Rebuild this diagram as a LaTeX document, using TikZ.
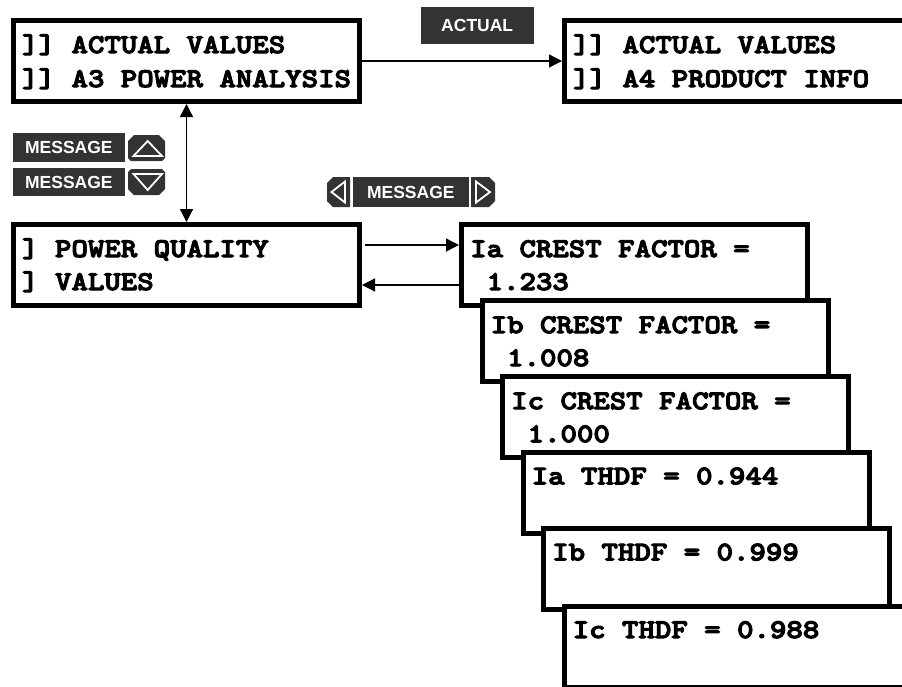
\documentclass[tikz,border=0pt]{standalone}
\usepackage{fontspec}
\usetikzlibrary{arrows.meta,calc}
\newfontfamily\keyfont{Liberation Sans}
% LCD text: heavy typewriter, widened to the display's character pitch
\newfontfamily\lcdfont{lmmonolt10-bold.otf}[FakeStretch=1.16, FakeBold=4]
\definecolor{keygray}{HTML}{333333}
\tikzset{
  lcd/.style={draw, line width=5pt, fill=white, minimum width=346pt, minimum height=81pt, inner sep=0pt},
  % screens that run past the right edge of the page
  lcdwide/.style={lcd, minimum width=380pt},
  lcdtext/.style={anchor=base west, inner sep=0pt, font=\lcdfont\fontsize{27}{34}\selectfont},
  keycap/.style={fill=keygray, text=white, inner sep=0pt, font=\keyfont\bfseries\fontsize{17.5}{20}\selectfont},
  keyglyph/.style={draw=white, line width=1.8pt, line join=miter},
  flow/.style={line width=1.3pt, -{Triangle[length=13pt,width=13pt]}},
  flowboth/.style={line width=1.3pt, {Triangle[length=13pt,width=13pt]}-{Triangle[length=13pt,width=13pt]}},
}
\begin{document}
\begin{tikzpicture}[x=1pt,y=-1pt]
\useasboundingbox (0,0) rectangle (902,686);
\clip (0,0) rectangle (902,686);

% menu header screens
\node[lcd] (b1) at (186.5,61) {};
\node[lcdtext] (b1l1) at ($(b1.north west)+(11,35)$) {]] ACTUAL VALUES};
\node[lcdtext] (b1l2) at ($(b1.north west)+(11,69)$) {]] A3 POWER ANALYSIS};

\node[lcdwide] (a4) at (754.5,61) {};
\node[lcdtext] (a4l1) at ($(a4.north west)+(11,35)$) {]] ACTUAL VALUES};
\node[lcdtext] (a4l2) at ($(a4.north west)+(11,69)$) {]] A4 PRODUCT INFO};

\node[lcd] (b2) at (186.5,265) {};
\node[lcdtext] (b2l1) at ($(b2.north west)+(11,35)$) {] POWER QUALITY};
\node[lcdtext] (b2l2) at ($(b2.north west)+(11,68)$) {] VALUES};

% stacked value screens
\node[lcd] (c1) at (634.5,265) {};
\node[lcdtext] (c1l1) at ($(c1.north west)+(11,35)$) {Ia CREST FACTOR =};
\node[lcdtext] (c1l2) at ($(c1.north west)+(11,68)$) {\phantom{0}1.233};

\node[lcd] (c2) at (655,341.1) {};
\node[lcdtext] (c2l1) at ($(c2.north west)+(11,35)$) {Ib CREST FACTOR =};
\node[lcdtext] (c2l2) at ($(c2.north west)+(11,68)$) {\phantom{0}1.008};

\node[lcd] (c3) at (675.5,417.2) {};
\node[lcdtext] (c3l1) at ($(c3.north west)+(11,35)$) {Ic CREST FACTOR =};
\node[lcdtext] (c3l2) at ($(c3.north west)+(11,68)$) {\phantom{0}1.000};

\node[lcd] (c4) at (696,493.3) {};
\node[lcdtext] (c4l1) at ($(c4.north west)+(11,34)$) {Ia THDF = 0.944};

\node[lcd] (c5) at (716.5,569.4) {};
\node[lcdtext] (c5l1) at ($(c5.north west)+(11,34)$) {Ib THDF = 0.999};

\node[lcdwide] (c6) at (754,647) {};
\node[lcdtext] (c6l1) at ($(c6.north west)+(11,34)$) {Ic THDF = 0.988};

% connectors
\draw[flow] (b1.east) -- (a4.west);
\draw[flowboth] (b1.south) -- (b2.north);
\draw[flow] ($(b2.east)+(3,-20)$) -- ($(c1.west)+(0,-20)$);
\draw[flow] ($(c1.west)+(0,20)$) -- ($(b2.east)+(0,20)$);

% keypad keys
\node[keycap, minimum width=113pt, minimum height=37pt] (kactual) at (477.2,25.5) {ACTUAL};
\node[keycap, minimum width=112.3pt, minimum height=29pt] (kmsgup) at (68.9,147.5) {MESSAGE};
\node[keycap, minimum width=112.3pt, minimum height=28pt] (kmsgdn) at (68.9,182) {MESSAGE};
\node[keycap, minimum width=116.3pt, minimum height=30pt] (kmsg) at (410.8,192) {MESSAGE};

% up key
\fill[keygray] (128,158) -- (128,141) -- (134,135) -- (159,135) -- (165,141) -- (165,158) -- (162,161) -- (131,161) -- cycle;
\draw[keyglyph] (133.5,156) -- (162,156) -- (147.7,141) -- cycle;
% down key
\fill[keygray] (128,172) -- (131,169) -- (162,169) -- (165,172) -- (165,189) -- (159,195) -- (134,195) -- (128,189) -- cycle;
\draw[keyglyph] (133.5,174) -- (162,174) -- (147.7,190) -- cycle;
% left key
\fill[keygray] (350,177) -- (333,177) -- (327,183) -- (327,201) -- (333,207) -- (350,207) -- cycle;
\draw[keyglyph] (331.5,192) -- (345,181.5) -- (345,202.5) -- cycle;
% right key
\fill[keygray] (471,177) -- (489,177) -- (495,183) -- (495,201) -- (489,207) -- (471,207) -- cycle;
\draw[keyglyph] (476,181.5) -- (490,192) -- (476,202.5) -- cycle;
\end{tikzpicture}
\end{document}
